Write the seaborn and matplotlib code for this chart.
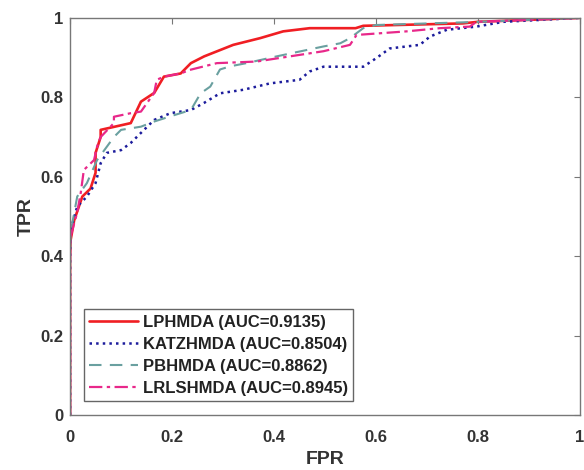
import matplotlib
matplotlib.use("Agg")
import matplotlib.pyplot as plt
import seaborn as sns
import pandas as pd

sns.set_style("white")
plt.rcParams['font.family'] = ['Liberation Sans', 'DejaVu Sans']

# LPHMDA
lp_fpr = [0, 0, 0.001, 0.008, 0.024, 0.04, 0.05, 0.05, 0.06, 0.06, 0.119, 0.139, 0.165, 0.184, 0.217, 0.237, 0.263,
          0.32, 0.373, 0.418, 0.47, 0.549, 0.56, 0.575, 0.77, 0.8, 1.0]
lp_tpr = [0, 0.40, 0.44, 0.49, 0.55, 0.57, 0.61, 0.66, 0.70, 0.718, 0.735, 0.789, 0.811, 0.852, 0.86, 0.886, 0.903,
          0.932, 0.949, 0.966, 0.974, 0.974, 0.974, 0.98, 0.986, 0.99, 1.0]
# KATZHMDA
kz_fpr = [0, 0, 0.001, 0.014, 0.033, 0.05, 0.06, 0.072, 0.1, 0.119, 0.145, 0.165, 0.197, 0.237, 0.263, 0.294, 0.34,
          0.392, 0.45, 0.47, 0.497, 0.549, 0.575, 0.6, 0.627, 0.686, 0.706, 0.739, 0.797, 0.85, 1.0]
kz_tpr = [0, 0.40, 0.466, 0.525, 0.55, 0.584, 0.634, 0.66, 0.667, 0.685, 0.718, 0.743, 0.76, 0.768, 0.786, 0.81, 0.819,
          0.835, 0.844, 0.865, 0.877, 0.877, 0.877, 0.898, 0.923, 0.932, 0.953, 0.97, 0.978, 0.99, 1.0]
# PBHMDA
pb_fpr = [0, 0, 0.001, 0.014, 0.033, 0.053, 0.086, 0.1, 0.139, 0.165, 0.204, 0.237, 0.256, 0.275, 0.294, 0.314, 0.346,
          0.405, 0.497, 0.53, 0.549, 0.575, 0.6, 0.804, 1.0]
pb_tpr = [0, 0.40, 0.46, 0.55, 0.584, 0.642, 0.70, 0.718, 0.726, 0.739, 0.755, 0.768, 0.81, 0.827, 0.87, 0.878, 0.886,
          0.903, 0.928, 0.936, 0.949, 0.974, 0.982, 0.99, 1.0]
# LRLSHMDA
lr_fpr = [0, 0, 0.001, 0.014, 0.021, 0.027, 0.047, 0.053, 0.06, 0.086, 0.086, 0.119, 0.139, 0.165, 0.17, 0.184, 0.217,
          0.235, 0.288, 0.366, 0.431, 0.497, 0.549, 0.562, 0.66, 0.725, 0.784, 0.797, 1.0]
lr_tpr = [0, 0.40, 0.45, 0.51, 0.56, 0.617, 0.642, 0.676, 0.70, 0.735, 0.751, 0.76, 0.764, 0.811, 0.844, 0.852, 0.86,
          0.869, 0.886, 0.89, 0.903, 0.916, 0.932, 0.957, 0.966, 0.974, 0.978, 0.99, 1.0]

labels = ["LPHMDA (AUC=0.9135)", "KATZHMDA (AUC=0.8504)", "PBHMDA (AUC=0.8862)", "LRLSHMDA (AUC=0.8945)"]
colors = ["#f01e23", "#1c1c9c", "#6aa0a0", "#e8288a"]
styles = ["-", ":", (0, (6, 4)), (0, (6, 2, 1.5, 2))]
widths = [1.9, 1.8, 1.5, 1.6]

series = [(lp_fpr, lp_tpr), (kz_fpr, kz_tpr), (pb_fpr, pb_tpr), (lr_fpr, lr_tpr)]

fig = plt.figure(figsize=(5.84, 4.70), dpi=100)
ax = fig.add_axes([0.12, 0.117, 0.873, 0.845])

for (fx, ty), lab, c, ls, lw in zip(series, labels, colors, styles, widths):
    df = pd.DataFrame({"FPR": fx, "TPR": ty})
    sns.lineplot(data=df, x="FPR", y="TPR", ax=ax, sort=False, estimator=None,
                 color=c, linestyle=ls, linewidth=lw, label=lab)

ax.set_xlim(0, 1)
ax.set_ylim(0, 1)
ticks = [0, 0.2, 0.4, 0.6, 0.8, 1]
ticklabels = ["0", "0.2", "0.4", "0.6", "0.8", "1"]
ax.set_xticks(ticks)
ax.set_xticklabels(ticklabels)
ax.set_yticks(ticks)
ax.set_yticklabels(ticklabels)
ax.tick_params(direction="in", top=True, right=True, length=4, width=0.8, color="#777777",
               labelsize=12, labelcolor="#333333", pad=5)
ax.tick_params(axis="x", pad=11)
for t in ax.get_xticklabels() + ax.get_yticklabels():
    t.set_fontweight("bold")
for sp in ax.spines.values():
    sp.set_color("#777777")
    sp.set_linewidth(1.0)
ax.set_xlabel("FPR", fontsize=14, fontweight="bold", color="#333333", labelpad=4)
ax.set_ylabel("TPR", fontsize=14, fontweight="bold", color="#333333", labelpad=4)

leg = ax.legend(loc="lower left", bbox_to_anchor=(0.027, 0.035), borderaxespad=0, fancybox=False,
                framealpha=1, edgecolor="#666666", prop={"weight": "bold", "size": 12},
                handlelength=2.9, borderpad=0.32, labelspacing=0.42, handletextpad=0.3)
leg.get_frame().set_linewidth(1.0)
for t in leg.get_texts():
    t.set_color("#222222")

fig.savefig("out.png", dpi=100)
